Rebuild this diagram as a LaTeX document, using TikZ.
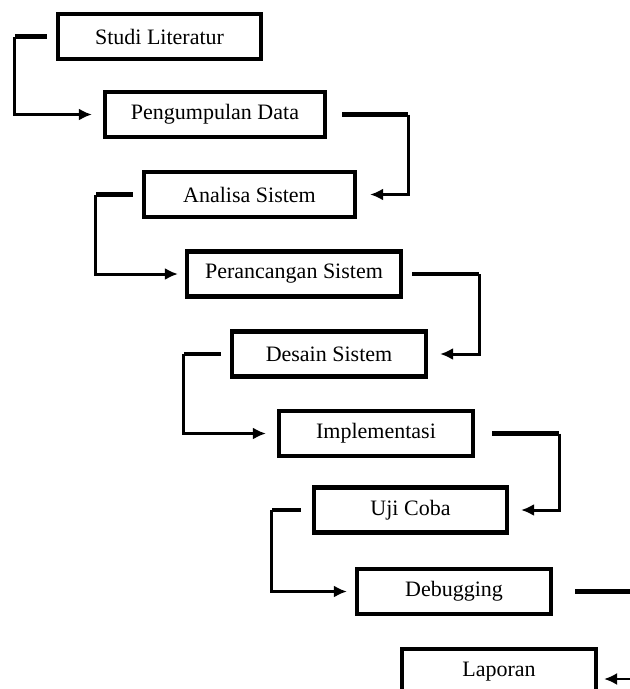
\documentclass[tikz,border=0pt]{standalone}
\usepackage{fontspec}
\setmainfont{Liberation Serif}
\usetikzlibrary{arrows.meta}
\begin{document}
\begin{tikzpicture}[x=1pt,y=-1pt,
    box/.style={draw,line width=4.2pt,minimum height=45pt,inner sep=0pt,
        font=\fontsize{22}{26}\selectfont},
    stub/.style={line width=4.5pt},
    flow/.style={line width=3pt,-{Latex[length=13pt,width=12pt]}}]

    \useasboundingbox (0,0) rectangle (630,689);
    \clip (0,0) rectangle (630,689);

    \node[box,minimum width=203pt] (studi) at (159.5,36.5) {Studi Literatur};
    \node[box,minimum width=220pt] (data) at (215,114.5) {Pengumpulan Data};
    \node[box,minimum width=211pt] (analisa) at (249.5,194.5) {Analisa Sistem};
    \node[box,minimum width=214pt] (rancang) at (294,274) {Perancangan Sistem};
    \node[box,minimum width=194pt] (desain) at (329,354) {Desain Sistem};
    \node[box,minimum width=194pt] (impl) at (376,433.5) {Implementasi};
    \node[box,minimum width=193pt] (uji) at (410.5,510) {Uji Coba};
    \node[box,minimum width=194pt] (debug) at (454,591.5) {Debugging};
    \node[box,minimum width=194pt] (lapor) at (499,671.5) {Laporan};

    \draw[stub] ([xshift=-9pt]studi.west) -- ++(-32,0) coordinate (k1);
    \draw[flow] (k1) |- ([xshift=-11pt]data.west);

    \draw[stub] ([xshift=15pt]data.east) -- ++(66,0) coordinate (k2);
    \draw[flow] (k2) |- ([xshift=13pt]analisa.east);

    \draw[stub] ([xshift=-9pt]analisa.west) -- ++(-37,0) coordinate (k3);
    \draw[flow] (k3) |- ([xshift=-7pt]rancang.west);

    \draw[stub] ([xshift=9pt]rancang.east) -- ++(67,0) coordinate (k4);
    \draw[flow] (k4) |- ([xshift=12pt]desain.east);

    \draw[stub] ([xshift=-9pt]desain.west) -- ++(-37,0) coordinate (k5);
    \draw[flow] (k5) |- ([xshift=-11pt]impl.west);

    \draw[stub] ([xshift=17pt]impl.east) -- ++(67,0) coordinate (k6);
    \draw[flow] (k6) |- ([xshift=12pt]uji.east);

    \draw[stub] ([xshift=-11pt]uji.west) -- ++(-29,0) coordinate (k7);
    \draw[flow] (k7) |- ([xshift=-8pt]debug.west);

    % runs off the right edge of the page
    \draw[stub,line width=5pt] ([xshift=22pt]debug.east) -- ++(70,0);
    \draw[flow,line width=2.2pt] ([xshift=44pt,yshift=-7.5pt]lapor.east) --
        ([xshift=6pt,yshift=-7.5pt]lapor.east);

\end{tikzpicture}
\end{document}
